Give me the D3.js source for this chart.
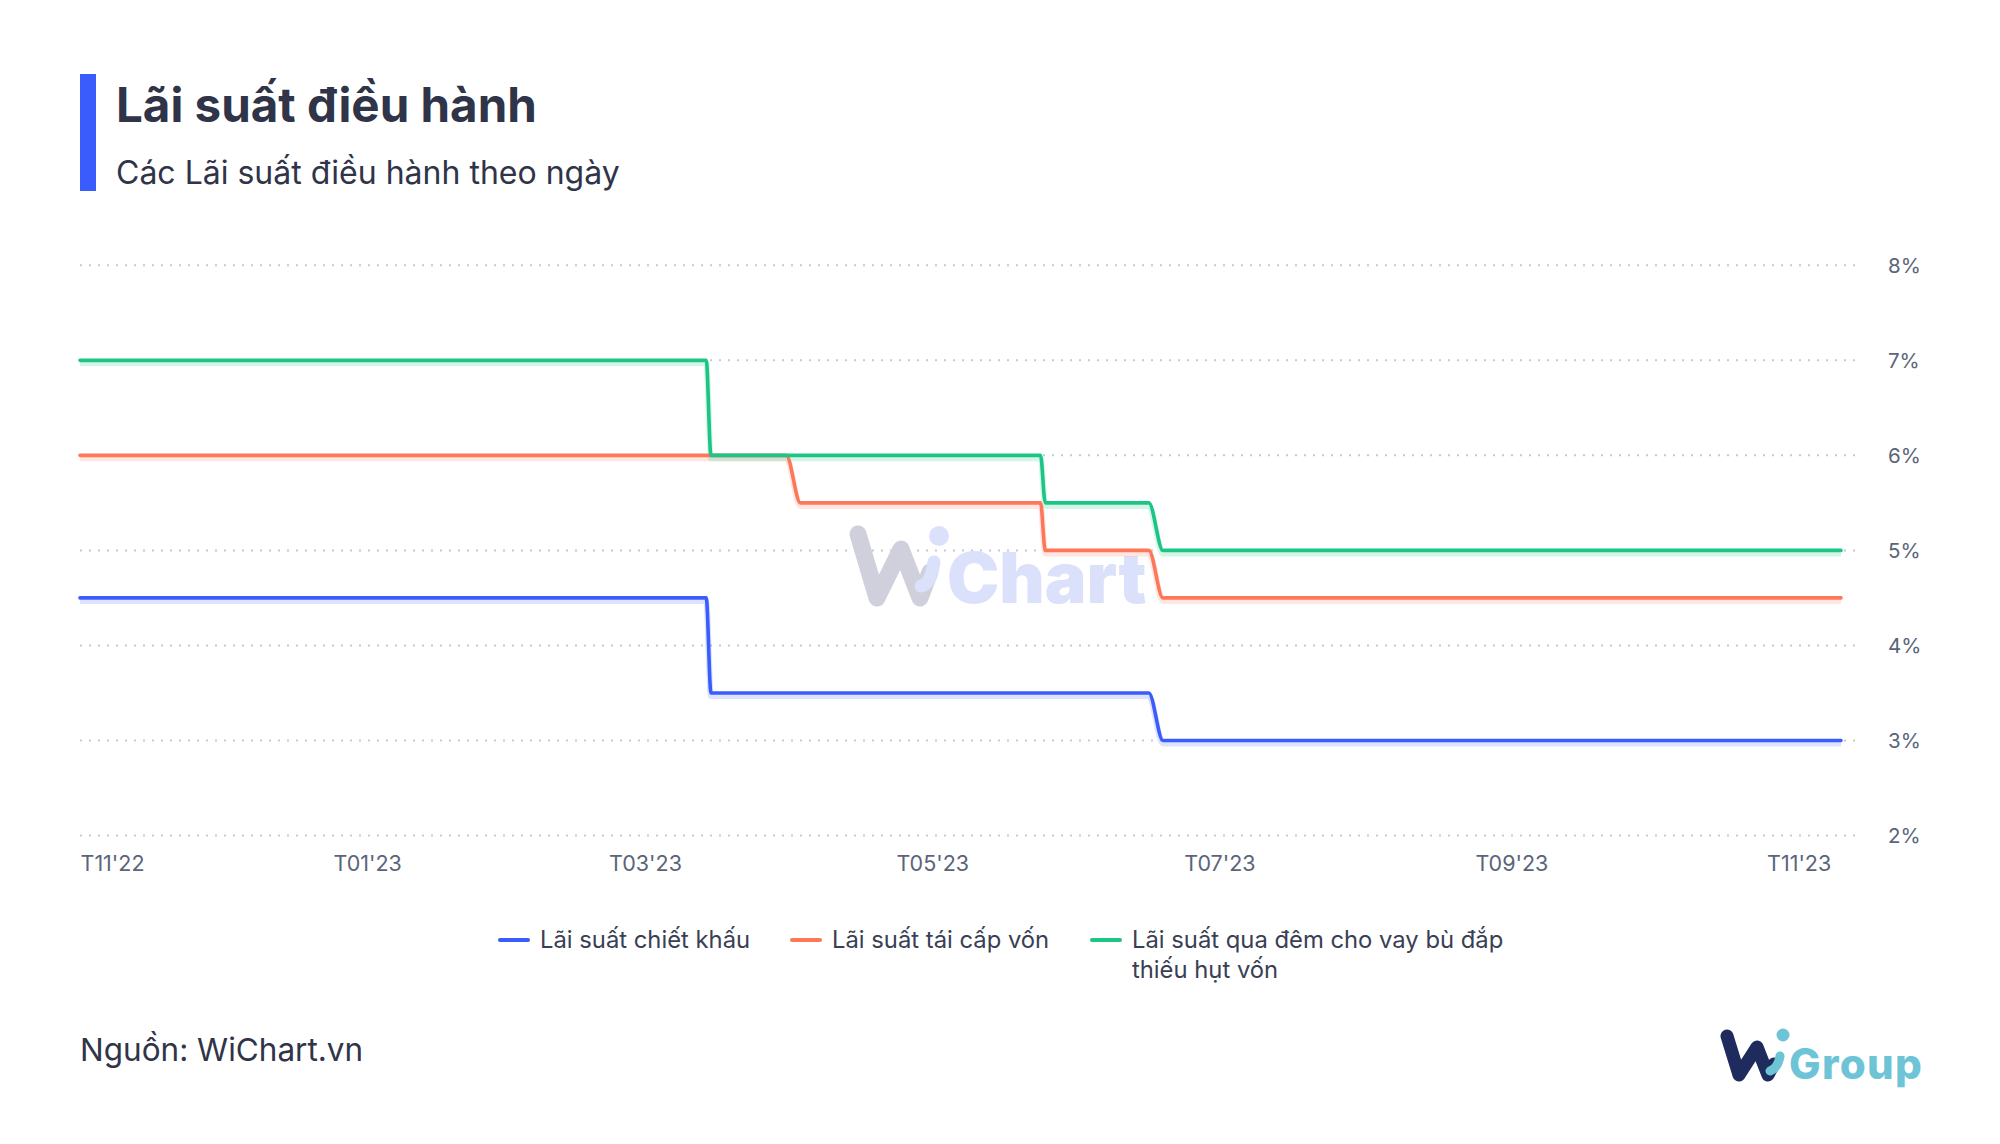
<!DOCTYPE html>
<html>
<head>
<meta charset="utf-8">
<script src="https://cdn.jsdelivr.net/npm/d3@7"></script>
<style>
  html, body { margin: 0; padding: 0; background: #ffffff; }
  svg { display: block; font-family: Inter, "Noto Sans", sans-serif; }
</style>
</head>
<body>
<svg id="chart" width="2000" height="1144"></svg>
<script>
// ---------- Data ----------
const title = "Lãi suất điều hành";
const subtitle = "Các Lãi suất điều hành theo ngày";
const sourceText = "Nguồn: WiChart.vn";

const seriesNames = ["Lãi suất chiết khấu", "Lãi suất tái cấp vốn", "Lãi suất qua đêm cho vay bù đắp thiếu hụt vốn"];
const seriesColors = ["#3b5cfd", "#ff7759", "#1cc585"];

const discountDates  = ["2022-11-01", "2023-03-14", "2023-03-15", "2023-06-16", "2023-06-19", "2023-11-10"];
const discountValues = [4.5, 4.5, 3.5, 3.5, 3.0, 3.0];

const refinanceDates  = ["2022-11-01", "2023-03-31", "2023-04-03", "2023-05-24", "2023-05-25", "2023-06-16", "2023-06-19", "2023-11-10"];
const refinanceValues = [6.0, 6.0, 5.5, 5.5, 5.0, 5.0, 4.5, 4.5];

const overnightDates  = ["2022-11-01", "2023-03-14", "2023-03-15", "2023-05-24", "2023-05-25", "2023-06-16", "2023-06-19", "2023-11-10"];
const overnightValues = [7.0, 7.0, 6.0, 6.0, 5.5, 5.5, 5.0, 5.0];

const yTicks = [2, 3, 4, 5, 6, 7, 8];
const xTickDates = ["2022-11-01", "2023-01-01", "2023-03-01", "2023-05-01", "2023-07-01", "2023-09-01", "2023-11-01"];
const xTickLabels = ["T11'22", "T01'23", "T03'23", "T05'23", "T07'23", "T09'23", "T11'23"];

// ---------- Build ----------
const parse = d3.utcParse("%Y-%m-%d");
const series = [
  {name: seriesNames[0], color: seriesColors[0], pts: discountDates.map((d, i) => ({date: parse(d), v: discountValues[i]}))},
  {name: seriesNames[1], color: seriesColors[1], pts: refinanceDates.map((d, i) => ({date: parse(d), v: refinanceValues[i]}))},
  {name: seriesNames[2], color: seriesColors[2], pts: overnightDates.map((d, i) => ({date: parse(d), v: overnightValues[i]}))}
];

const svg = d3.select("#chart");
const plotLeft = 80, lineRight = 1841, gridRight = 1858;
const yTop = 265.3, yBottom = 835.5;

const x = d3.scaleUtc().domain([parse("2022-11-01"), parse("2023-11-10")]).range([plotLeft, lineRight]);
const y = d3.scaleLinear().domain([2, 8]).range([yBottom, yTop]);

// Header
svg.append("rect").attr("x", 80).attr("y", 74).attr("width", 16).attr("height", 117).attr("fill", "#3b5cfd");
svg.append("text").attr("x", 116).attr("y", 122).attr("font-size", 47.5).attr("font-weight", 700)
  .attr("fill", "#2f3448").text(title);
svg.append("text").attr("x", 116).attr("y", 184).attr("font-size", 32).attr("font-weight", 400)
  .attr("fill", "#2f3448").text(subtitle);

// Grid
const grid = svg.append("g");
grid.selectAll("line").data(yTicks).join("line")
  .attr("x1", plotLeft).attr("x2", gridRight)
  .attr("y1", d => y(d)).attr("y2", d => y(d))
  .attr("stroke", "#c5c9d3").attr("stroke-width", 2)
  .attr("stroke-dasharray", "2,7");

// Y axis labels (right)
const yAxis = d3.axisRight(y).tickValues(yTicks).tickFormat(d => d + "%").tickSize(0).tickPadding(0);
const yg = svg.append("g").attr("transform", `translate(1888,0)`).call(yAxis);
yg.select(".domain").remove();
yg.selectAll("text").attr("font-size", 20.5).attr("fill", "#5b6479").attr("font-family", "Inter, sans-serif")
  .attr("text-anchor", "start").attr("dy", "0.35em");

// X axis labels
const xAxis = d3.axisBottom(x).tickValues(xTickDates.map(parse))
  .tickFormat((d, i) => xTickLabels[i]).tickSize(0).tickPadding(0);
const xg = svg.append("g").attr("transform", `translate(0,855)`).call(xAxis);
xg.select(".domain").remove();
xg.selectAll("text").attr("font-size", 21.5).attr("fill", "#5b6479").attr("font-family", "Inter, sans-serif")
  .attr("dy", "0.75em")
  .attr("text-anchor", (d, i) => i === 0 ? "start" : "middle");

// Watermark
const wm = svg.append("g");
wm.append("path").attr("d", "M858,534 L877,598 L901,549 L920,598 L930,572")
  .attr("fill", "none").attr("stroke", "#cfd0dc").attr("stroke-width", 17)
  .attr("stroke-linecap", "round").attr("stroke-linejoin", "round");
wm.append("path").attr("d", "M921,586 Q931,584 934,562")
  .attr("fill", "none").attr("stroke", "#dbe1fb").attr("stroke-width", 13).attr("stroke-linecap", "round");
wm.append("circle").attr("cx", 939).attr("cy", 536).attr("r", 10).attr("fill", "#dbe1fb");
wm.append("text").attr("x", 947).attr("y", 603).attr("font-size", 70).attr("font-weight", 900)
  .attr("font-family", "Inter, sans-serif")
  .attr("fill", "#dbe1fb").text("Chart");

// Lines
const line = d3.line().x(d => x(d.date)).y(d => y(d.v)).curve(d3.curveMonotoneX);
const lines = svg.append("g");
series.forEach(s => {
  lines.append("path").datum(s.pts).attr("d", line)
    .attr("fill", "none").attr("stroke", s.color).attr("stroke-width", 6).attr("opacity", 0.18)
    .attr("transform", "translate(0,3)").attr("stroke-linejoin", "round");
});
series.forEach(s => {
  lines.append("path").datum(s.pts).attr("d", line)
    .attr("fill", "none").attr("stroke", s.color).attr("stroke-width", 3.6)
    .attr("stroke-linejoin", "round").attr("stroke-linecap", "round");
});

// Legend
const legendItems = [
  {x: 500, lines: ["Lãi suất chiết khấu"]},
  {x: 792, lines: ["Lãi suất tái cấp vốn"]},
  {x: 1092, lines: ["Lãi suất qua đêm cho vay bù đắp", "thiếu hụt vốn"]}
];
const lg = svg.append("g");
legendItems.forEach((it, i) => {
  lg.append("line").attr("x1", it.x).attr("x2", it.x + 28).attr("y1", 940).attr("y2", 940)
    .attr("stroke", seriesColors[i]).attr("stroke-width", 4).attr("stroke-linecap", "round");
  it.lines.forEach((t, j) => {
    lg.append("text").attr("x", it.x + 40).attr("y", 940 + j * 30).attr("dy", "0.35em")
      .attr("font-size", 23.8).attr("fill", "#3a4054").text(t);
  });
});

// Source
svg.append("text").attr("x", 80).attr("y", 1061).attr("font-size", 31.5).attr("fill", "#2f3448").text(sourceText);

// WiGroup logo
const logo = svg.append("g");
logo.append("path").attr("d", "M1727,1036 L1739,1075 L1757,1047 L1768,1075 L1774,1064")
  .attr("fill", "none").attr("stroke", "#1e2b5c").attr("stroke-width", 13)
  .attr("stroke-linecap", "round").attr("stroke-linejoin", "round");
logo.append("path").attr("d", "M1770,1071 Q1778,1068 1780,1056")
  .attr("fill", "none").attr("stroke", "#6cc4d6").attr("stroke-width", 9).attr("stroke-linecap", "round");
logo.append("circle").attr("cx", 1783).attr("cy", 1035).attr("r", 6.5).attr("fill", "#6cc4d6");
logo.append("text").attr("x", 1789).attr("y", 1079).attr("font-size", 42).attr("font-weight", 800)
  .attr("letter-spacing", 1.3).attr("fill", "#6cc4d6").text("Group");
</script>
</body>
</html>
